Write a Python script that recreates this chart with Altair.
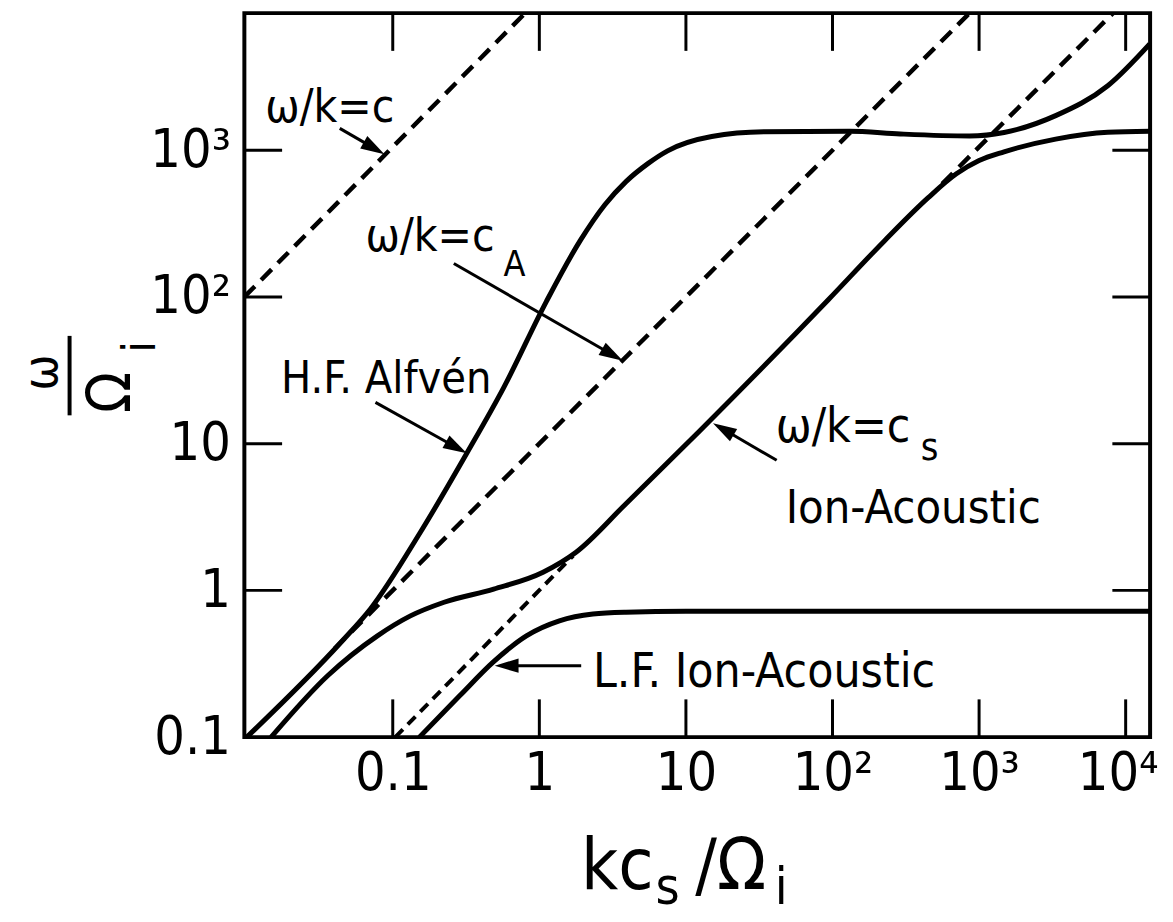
import math
import altair as alt
import pandas as pd

# ---------------- values ----------------
# H.F. Alfven branch (upper solid curve)
alfven_k = [0.0101, 0.045, 0.0706, 0.154, 0.32, 0.57, 1.116, 1.9, 2.8, 3.9, 5.5, 7.5, 15, 34, 130, 290, 860, 1480, 3330, 7550, 14600]
alfven_w = [0.1, 0.45, 0.75, 2.48, 8.6, 24, 93, 242, 425, 611, 810, 990, 1240, 1335, 1345, 1290, 1250, 1320, 1720, 2750, 5300]
# ion-acoustic branch (middle solid curve)
ion_k = [0.0148, 0.0361, 0.0786, 0.132, 0.224, 0.488, 1.06, 1.78, 3.9, 12.5, 94, 225, 450, 700, 1000, 1480, 3330, 7550, 14600]
ion_w = [0.1, 0.263, 0.49, 0.67, 0.83, 1.02, 1.33, 1.82, 3.9, 12.3, 96, 240, 475, 690, 850, 975, 1190, 1325, 1346]
# L.F. ion-acoustic branch (lower solid curve)
lf_k = [0.152, 0.287, 0.488, 0.816, 1.37, 2.32, 3.89, 10, 14600]
lf_w = [0.1, 0.192, 0.327, 0.49, 0.62, 0.69, 0.71, 0.72, 0.72]

# dashed reference lines
c_k = [0.00972, 0.80]
c_w = [100, 8590]
ca_k = [0.04, 860]
ca_w = [0.4, 8590]
cs_lo_k = [0.104, 1.7]
cs_lo_w = [0.1, 1.72]
cs_hi_k = [560, 8200]
cs_hi_w = [590, 8590]

x_ticks = [0.1, 1, 10, 100, 1000, 10000]
x_labels = ["0.1", "1", "10", "10²", "10³", "10⁴"]
y_ticks = [0.1, 1, 10, 100, 1000]
y_labels = ["0.1", "1", "10", "10²", "10³"]

# annotation texts: text, k, omega (left / baseline anchor), font size
ann_text = ["ω/k=c", "ω/k=c", "A", "H.F. Alfvén", "ω/k=c", "s", "Ion-Acoustic", "L.F. Ion-Acoustic"]
ann_k = [0.0135, 0.0652, 0.570, 0.0173, 41, 400, 47.9, 2.32]
ann_w = [1549, 204, 138, 22.3, 10.2, 7.7, 2.90, 0.221]
ann_fs = [46, 46, 36, 45, 48, 38, 47, 48]

# arrows: start (k, omega) -> tip (k, omega)
arr_k1 = [0.0435, 0.261, 0.0762, 41.6, 1.93]
arr_w1 = [1409, 169, 19.1, 7.7, 0.307]
arr_k2 = [0.0877, 3.71, 0.320, 15.3, 0.496]
arr_w2 = [940, 36.7, 8.6, 13.8, 0.307]

# ---------------- layout ----------------
FONT = "DejaVu Sans Condensed, Liberation Sans Narrow, DejaVu Sans, sans-serif"
W, H = 912, 729
XDOM = [0.00972, 14680]
YDOM = [0.1, 8594]
TICK = 38

lx0, lx1 = math.log10(XDOM[0]), math.log10(XDOM[1])
ly0, ly1 = math.log10(YDOM[0]), math.log10(YDOM[1])


def to_px(k, w):
    return (W * (math.log10(k) - lx0) / (lx1 - lx0),
            H * (1 - (math.log10(w) - ly0) / (ly1 - ly0)))


def from_px(x, y):
    return (10 ** (lx0 + x / W * (lx1 - lx0)),
            10 ** (ly0 + (1 - y / H) * (ly1 - ly0)))


def label_expr(ticks, labels):
    expr = "''"
    for t, l in reversed(list(zip(ticks, labels))):
        expr = f"datum.value < {t * 3} ? '{l}' : ({expr})"
    return expr


xs = alt.Scale(type="log", domain=XDOM, nice=False)
ys = alt.Scale(type="log", domain=YDOM, nice=False)
xaxis = alt.Axis(values=x_ticks, labelExpr=label_expr(x_ticks, x_labels), ticks=False, domain=False,
                 grid=False, title=None, labelFont=FONT, labelFontSize=54, labelColor="black",
                 labelPadding=10, labelOverlap=False, labelFlush=False,
                 labelOffset={"condition": {"test": "datum.value > 5000", "value": -8}, "value": 0})
yaxis = alt.Axis(values=y_ticks, labelExpr=label_expr(y_ticks, y_labels), ticks=False, domain=False,
                 grid=False, title=None, labelFont=FONT, labelFontSize=54, labelColor="black",
                 labelPadding=14, labelOverlap=False, labelFlush=False)


def X(f):
    return alt.X(f, type="quantitative", scale=xs, axis=xaxis)


def Y(f):
    return alt.Y(f, type="quantitative", scale=ys, axis=yaxis)


def line_df(series):
    rows = []
    for name, ks, ws in series:
        for i, (k, w) in enumerate(zip(ks, ws)):
            rows.append({"s": name, "i": i, "k": k, "w": w})
    return pd.DataFrame(rows)


solid_df = line_df([("alfven", alfven_k, alfven_w), ("ion", ion_k, ion_w), ("lf", lf_k, lf_w)])
dash_df = line_df([("c", c_k, c_w), ("ca", ca_k, ca_w), ("cshi", cs_hi_k, cs_hi_w)])
fine_df = line_df([("cslo", cs_lo_k, cs_lo_w)])

solid = alt.Chart(solid_df).mark_line(color="black", strokeWidth=5, interpolate="monotone", clip=True).encode(
    x=X("k"), y=Y("w"), detail="s:N", order="i:Q")
dashed = alt.Chart(dash_df).mark_line(color="black", strokeWidth=4.5, strokeDash=[15, 9], clip=True).encode(
    x=X("k"), y=Y("w"), detail="s:N", order="i:Q")
dashed_fine = alt.Chart(fine_df).mark_line(color="black", strokeWidth=4, strokeDash=[11, 7], clip=True).encode(
    x=X("k"), y=Y("w"), detail="s:N", order="i:Q")

ann_df = pd.DataFrame({"text": ann_text, "k": ann_k, "w": ann_w, "fs": ann_fs})
texts = alt.Chart(ann_df).mark_text(align="left", baseline="alphabetic", font=FONT, color="black").encode(
    x=X("k"), y=Y("w"), text="text:N", size=alt.Size("fs:Q", scale=None, legend=None))

# arrows
HEAD = 24
shaft_rows, head_rows = [], []
for k1, w1, k2, w2 in zip(arr_k1, arr_w1, arr_k2, arr_w2):
    x1, y1 = to_px(k1, w1)
    x2, y2 = to_px(k2, w2)
    dx, dy = x2 - x1, y2 - y1
    L = math.hypot(dx, dy)
    bx, by = x2 - dx / L * (HEAD * 0.8), y2 - dy / L * (HEAD * 0.8)
    bk, bw = from_px(bx, by)
    shaft_rows.append({"k": k1, "w": w1, "k2": bk, "w2": bw})
    head_rows.append({"k": k2, "w": w2, "ang": math.degrees(math.atan2(dx, -dy)) % 360})
shafts = alt.Chart(pd.DataFrame(shaft_rows)).mark_rule(color="black", strokeWidth=3).encode(
    x=X("k"), y=Y("w"), x2="k2:Q", y2="w2:Q")
heads = alt.Chart(pd.DataFrame(head_rows)).mark_point(
    shape="M0,0L0.3,1L-0.3,1Z", filled=True, opacity=1, color="black", strokeWidth=0,
    size=(2 * HEAD) ** 2).encode(x=X("k"), y=Y("w"), angle=alt.Angle("ang:Q", scale=None))

# inward tick marks on all four sides
xt = pd.DataFrame({"t": x_ticks})
yt = pd.DataFrame({"t": [1, 10, 100, 1000]})
tick_b = alt.Chart(xt).mark_rule(color="black", strokeWidth=3).encode(x=X("t"), y=alt.value(H), y2=alt.value(H - TICK))
tick_t = alt.Chart(xt).mark_rule(color="black", strokeWidth=3).encode(x=X("t"), y=alt.value(0), y2=alt.value(TICK))
tick_l = alt.Chart(yt).mark_rule(color="black", strokeWidth=3).encode(y=Y("t"), x=alt.value(0), x2=alt.value(TICK))
tick_r = alt.Chart(yt).mark_rule(color="black", strokeWidth=3).encode(y=Y("t"), x=alt.value(W - TICK), x2=alt.value(W))


def piece(text, x, y, size, angle=0, align="left", baseline="alphabetic"):
    return alt.Chart(pd.DataFrame({"t": [text]})).mark_text(
        font=FONT, fontSize=size, angle=angle, align=align, baseline=baseline, color="black").encode(
        text="t:N", x=alt.value(x), y=alt.value(y))


# x-axis title  k c_s / Omega_i
xtitle = [piece("kc", 339, 882, 72), piece("s", 414, 897, 52),
          piece("/Ω", 454, 882, 72), piece("i", 534, 897, 52)]
# y-axis title  omega over Omega_i (rotated)
ytitle = [piece("ω", -203, 362, 48, angle=270, align="center", baseline="middle"),
          piece("Ω", -133, 382, 60, angle=270, align="center", baseline="middle"),
          piece("i", -104, 336, 46, angle=270, align="center", baseline="middle")]
bar = alt.Chart(pd.DataFrame({"a": [0]})).mark_rule(color="black", strokeWidth=4).encode(
    x=alt.value(-176), y=alt.value(325), y2=alt.value(405))

chart = alt.layer(dashed, dashed_fine, solid, shafts, heads, texts, tick_b, tick_t, tick_l, tick_r,
                  *xtitle, *ytitle, bar).properties(
    width=W, height=H,
    autosize=alt.AutoSizeParams(type="none"),
    padding={"left": 238, "top": 2, "right": 15, "bottom": 182},
    background="white",
).configure_view(stroke="black", strokeWidth=4)

chart.save("out.html", embed_options={"renderer": "svg", "actions": False})
